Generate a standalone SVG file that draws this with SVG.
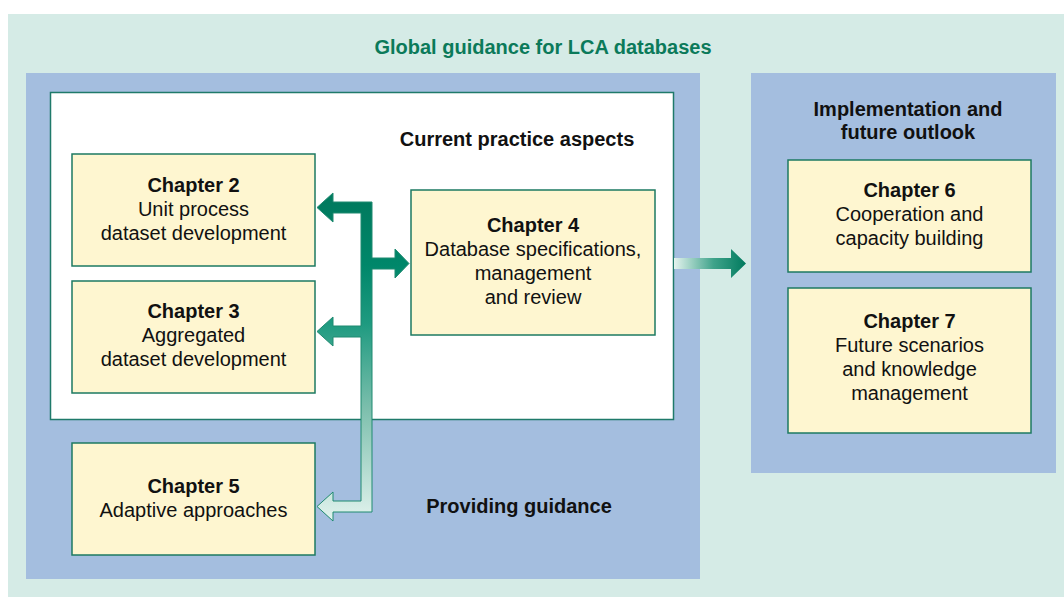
<svg xmlns="http://www.w3.org/2000/svg" width="1064" height="597" viewBox="0 0 1064 597">
<style>
text{font-family:"Liberation Sans",Arial,sans-serif;fill:#111;text-anchor:middle}
.t{font-size:20px}
.b{font-weight:bold}
.h{font-size:20px;font-weight:bold}
.title{font-size:20px;font-weight:bold;fill:#0b7a5a}
.box{fill:#fef6d0;stroke:#1d7a62;stroke-width:1.5}
.panel{fill:#a4bedf}
</style>
<defs>
<linearGradient id="gv" x1="0" y1="202" x2="0" y2="521" gradientUnits="userSpaceOnUse">
<stop offset="0" stop-color="#007a5e"/>
<stop offset="0.2" stop-color="#00876a"/>
<stop offset="0.38" stop-color="#1e9a80"/>
<stop offset="0.65" stop-color="#7dbfad"/>
<stop offset="1" stop-color="#e2f3ee"/>
</linearGradient>
<linearGradient id="gh" x1="674" y1="0" x2="746" y2="0" gradientUnits="userSpaceOnUse">
<stop offset="0" stop-color="#e4f3ee"/>
<stop offset="0.55" stop-color="#3fa38a"/>
<stop offset="1" stop-color="#007a5e"/>
</linearGradient>
</defs>
<rect x="8" y="14" width="1056" height="583" fill="#d5ebe6"/>
<text class="title" x="543" y="54">Global guidance for LCA databases</text>
<g id="providing">
<rect class="panel" x="26" y="73" width="674" height="506"/>
<text class="h" x="519" y="513">Providing guidance</text>
</g>
<g id="current">
<rect x="50.5" y="92.5" width="623" height="327" fill="#fff" stroke="#1f7a6a" stroke-width="1.5"/>
<text class="h" x="517" y="146">Current practice aspects</text>
</g>
<g id="implementation">
<rect class="panel" x="751" y="73" width="305" height="400"/>
<text class="h" x="908" y="116">Implementation and</text>
<text class="h" x="908" y="139">future outlook</text>
</g>
<g id="ch2">
<rect class="box" x="72" y="154" width="243" height="112"/>
<text class="t b" x="193.5" y="192">Chapter 2</text>
<text class="t" x="193.5" y="216">Unit process</text>
<text class="t" x="193.5" y="240">dataset development</text>
</g>
<g id="ch3">
<rect class="box" x="72" y="281" width="243" height="112"/>
<text class="t b" x="193.5" y="318">Chapter 3</text>
<text class="t" x="193.5" y="342">Aggregated</text>
<text class="t" x="193.5" y="366">dataset development</text>
</g>
<g id="ch5">
<rect class="box" x="72" y="443" width="243" height="112"/>
<text class="t b" x="193.5" y="493">Chapter 5</text>
<text class="t" x="193.5" y="517">Adaptive approaches</text>
</g>
<g id="ch4">
<rect class="box" x="411" y="190" width="244" height="145"/>
<text class="t b" x="533" y="232">Chapter 4</text>
<text class="t" x="533" y="256">Database specifications,</text>
<text class="t" x="533" y="280">management</text>
<text class="t" x="533" y="304">and review</text>
</g>
<g id="ch6">
<rect class="box" x="788" y="160" width="243" height="112"/>
<text class="t b" x="909.5" y="197">Chapter 6</text>
<text class="t" x="909.5" y="221">Cooperation and</text>
<text class="t" x="909.5" y="245">capacity building</text>
</g>
<g id="ch7">
<rect class="box" x="788" y="288" width="243" height="145"/>
<text class="t b" x="909.5" y="328">Chapter 7</text>
<text class="t" x="909.5" y="352">Future scenarios</text>
<text class="t" x="909.5" y="376">and knowledge</text>
<text class="t" x="909.5" y="400">management</text>
</g>
<g id="connectors">
<path d="M333,202 L372,202 L372,258 L395,258 L395,249 L409,263.5 L395,278 L395,269 L372,269 L372,512 L333,512 L333,521 L317,506.5 L333,492 L333,501 L361,501 L361,337 L333,337 L333,346 L317,331.5 L333,317 L333,326 L361,326 L361,213 L333,213 L333,222 L317,207.5 L333,193 Z" fill="url(#gv)" stroke="#1f8a70" stroke-width="1"/>
<path d="M674,258 L731,258 L731,249 L746,263.5 L731,278 L731,269 L674,269 Z" fill="url(#gh)"/>
</g>
</svg>
